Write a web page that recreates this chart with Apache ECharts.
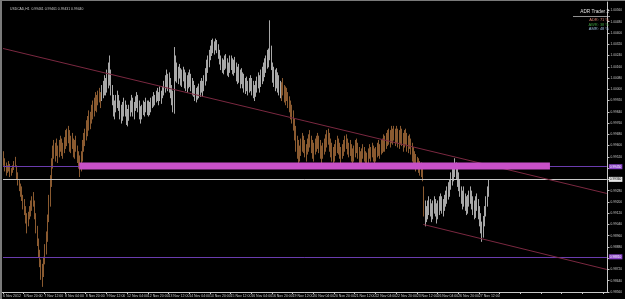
<!DOCTYPE html>
<html><head><meta charset="utf-8">
<script src="https://cdn.jsdelivr.net/npm/echarts/dist/echarts.min.js"></script>
<style>html,body{margin:0;padding:0;background:#000;overflow:hidden}#c{width:625px;height:299px}</style>
</head><body><div id="c"></div>
<script>
const symbolTitle = 'USDCAD,H1  0.99461 0.99461 0.99431 0.99440';
const xTickLabels = ['6 Nov 2012','6 Nov 20:00','7 Nov 12:00','8 Nov 04:00','8 Nov 20:00','9 Nov 12:00','12 Nov 04:00','12 Nov 20:00','13 Nov 12:00','14 Nov 04:00','14 Nov 20:00','15 Nov 12:00','16 Nov 04:00','16 Nov 20:00','19 Nov 12:00','20 Nov 04:00','20 Nov 20:00','21 Nov 12:00','22 Nov 04:00','22 Nov 20:00','23 Nov 12:00','26 Nov 04:00','26 Nov 20:00','27 Nov 12:00'];
const highs = [
0.9956,0.9951,0.9948,0.9946,0.9949,0.9947,0.9944,0.9946,0.9949,0.9952,0.9946,0.9941,0.9936,0.9933,0.9931,0.9925,
0.9922,0.9917,0.9912,0.9913,0.9917,0.9921,0.9924,0.9927,0.9921,0.9912,0.9903,0.9894,0.9886,0.9879,0.9876,0.9881,
0.9890,0.9899,0.9911,0.9925,0.9939,0.9951,0.9960,0.9964,0.9962,0.9965,0.9960,0.9964,0.9967,0.9965,0.9962,0.9966,
0.9971,0.9972,0.9974,0.9971,0.9967,0.9969,0.9965,0.9964,0.9967,0.9960,0.9956,0.9953,0.9956,0.9964,0.9969,0.9972,
0.9978,0.9981,0.9985,0.9984,0.9989,0.9992,0.9994,0.9998,0.9996,0.9999,1.0001,0.9998,1.0003,1.0006,1.0010,1.0008,
1.0014,1.0019,1.0024,1.0014,1.0003,0.9996,0.9992,0.9996,0.9999,0.9996,0.9992,0.9989,0.9991,0.9994,0.9992,0.9989,
0.9986,0.9989,0.9992,0.9996,0.9994,0.9991,0.9995,0.9998,0.9996,0.9992,0.9988,0.9989,0.9992,0.9991,0.9994,0.9992,
0.9992,0.9991,0.9994,0.9995,0.9998,0.9996,0.9999,1.0001,0.9998,1.0002,0.9999,1.0002,1.0006,1.0010,1.0014,1.0011,
1.0012,1.0008,1.0003,0.9999,1.0030,1.0024,1.0019,1.0016,1.0018,1.0015,1.0014,1.0016,1.0014,1.0012,1.0010,1.0012,
1.0014,1.0011,1.0008,1.0006,1.0003,1.0001,1.0002,1.0004,1.0006,1.0008,1.0006,1.0010,1.0015,1.0021,1.0024,1.0028,
1.0031,1.0035,1.0036,1.0034,1.0036,1.0035,1.0032,1.0028,1.0024,1.0022,1.0021,1.0024,1.0025,1.0022,1.0019,1.0024,
1.0024,1.0022,1.0021,1.0023,1.0019,1.0016,1.0018,1.0014,1.0015,1.0012,1.0011,1.0008,1.0009,1.0006,1.0008,1.0010,
1.0008,1.0006,1.0003,1.0006,1.0009,1.0012,1.0010,1.0014,1.0016,1.0019,1.0022,1.0024,1.0028,1.0029,1.0049,1.0031,
1.0019,1.0016,1.0014,1.0015,1.0012,1.0010,1.0006,1.0005,1.0008,1.0003,1.0002,1.0001,0.9998,0.9995,0.9992,0.9989,
0.9985,0.9979,0.9974,0.9967,0.9964,0.9960,0.9965,0.9969,0.9967,0.9964,0.9961,0.9965,0.9968,0.9971,0.9967,0.9964,
0.9962,0.9965,0.9967,0.9969,0.9967,0.9964,0.9960,0.9962,0.9965,0.9968,0.9971,0.9972,0.9969,0.9965,0.9962,0.9959,
0.9961,0.9964,0.9967,0.9965,0.9962,0.9959,0.9961,0.9964,0.9967,0.9968,0.9965,0.9962,0.9964,0.9961,0.9958,0.9960,
0.9964,0.9965,0.9962,0.9959,0.9956,0.9958,0.9961,0.9959,0.9956,0.9955,0.9958,0.9961,0.9959,0.9962,0.9960,0.9958,
0.9959,0.9962,0.9964,0.9961,0.9964,0.9965,0.9968,0.9967,0.9969,0.9971,0.9972,0.9971,0.9974,0.9972,0.9974,0.9972,
0.9974,0.9972,0.9971,0.9974,0.9972,0.9969,0.9971,0.9972,0.9969,0.9967,0.9968,0.9965,0.9962,0.9959,0.9956,0.9954,
0.9952,0.9951,0.9949,0.9948,0.9946,0.9931,0.9921,0.9917,0.9921,0.9924,0.9922,0.9919,0.9921,0.9924,0.9922,0.9919,
0.9921,0.9924,0.9926,0.9924,0.9922,0.9925,0.9928,0.9931,0.9934,0.9936,0.9941,0.9944,0.9946,0.9951,0.9948,0.9945,
0.9941,0.9936,0.9931,0.9928,0.9931,0.9926,0.9924,0.9925,0.9928,0.9931,0.9928,0.9924,0.9921,0.9924,0.9926,0.9922,
0.9917,0.9912,0.9906,0.9910,0.9917,0.9924,0.9931,0.9936];
const lows = [
0.9946,0.9942,0.9939,0.9941,0.9942,0.9938,0.9939,0.9941,0.9943,0.9945,0.9936,0.9932,0.9928,0.9924,0.9921,0.9915,
0.9911,0.9905,0.9898,0.9903,0.9908,0.9910,0.9914,0.9917,0.9908,0.9898,0.9889,0.9881,0.9874,0.9865,0.9860,0.9867,
0.9876,0.9883,0.9892,0.9906,0.9917,0.9931,0.9944,0.9951,0.9949,0.9953,0.9948,0.9952,0.9956,0.9953,0.9951,0.9955,
0.9958,0.9960,0.9962,0.9956,0.9955,0.9958,0.9952,0.9951,0.9956,0.9948,0.9944,0.9938,0.9942,0.9949,0.9956,0.9960,
0.9964,0.9967,0.9971,0.9972,0.9976,0.9979,0.9981,0.9985,0.9984,0.9989,0.9991,0.9987,0.9992,0.9994,0.9996,0.9996,
0.9998,1.0001,1.0003,0.9996,0.9989,0.9981,0.9979,0.9984,0.9987,0.9985,0.9979,0.9976,0.9978,0.9981,0.9981,0.9975,
0.9974,0.9978,0.9981,0.9984,0.9981,0.9979,0.9985,0.9987,0.9984,0.9979,0.9976,0.9979,0.9982,0.9981,0.9984,0.9982,
0.9981,0.9982,0.9984,0.9987,0.9988,0.9989,0.9991,0.9992,0.9989,0.9992,0.9990,0.9994,0.9996,0.9998,1.0001,0.9999,
0.9998,0.9994,0.9989,0.9984,0.9983,1.0006,1.0005,1.0004,1.0008,1.0003,1.0002,1.0006,1.0001,0.9999,0.9998,1.0001,
1.0002,0.9999,0.9996,0.9995,0.9992,0.9991,0.9993,0.9994,0.9995,0.9998,0.9995,0.9999,1.0003,1.0006,1.0012,1.0016,
1.0021,1.0024,1.0026,1.0025,1.0028,1.0026,1.0022,1.0018,1.0014,1.0012,1.0011,1.0014,1.0015,1.0010,1.0009,1.0012,
1.0014,1.0011,1.0010,1.0012,1.0006,1.0004,1.0005,1.0001,1.0004,1.0001,0.9998,0.9997,0.9999,0.9996,0.9998,0.9999,
0.9996,0.9994,0.9992,0.9995,0.9998,1.0001,0.9998,1.0002,1.0004,1.0006,1.0009,1.0012,1.0015,1.0016,1.0021,1.0014,
1.0005,1.0002,0.9999,1.0001,0.9998,0.9996,0.9994,0.9992,0.9996,0.9991,0.9989,0.9992,0.9987,0.9984,0.9979,0.9976,
0.9971,0.9964,0.9956,0.9951,0.9948,0.9949,0.9953,0.9956,0.9955,0.9952,0.9949,0.9954,0.9956,0.9959,0.9955,0.9951,
0.9949,0.9954,0.9956,0.9958,0.9955,0.9951,0.9948,0.9951,0.9954,0.9956,0.9959,0.9961,0.9956,0.9952,0.9949,0.9948,
0.9949,0.9953,0.9955,0.9954,0.9951,0.9948,0.9951,0.9953,0.9956,0.9958,0.9954,0.9952,0.9953,0.9949,0.9947,0.9949,
0.9952,0.9955,0.9951,0.9948,0.9946,0.9948,0.9951,0.9949,0.9946,0.9945,0.9948,0.9951,0.9949,0.9952,0.9949,0.9947,
0.9949,0.9952,0.9953,0.9951,0.9954,0.9955,0.9956,0.9956,0.9958,0.9960,0.9961,0.9959,0.9962,0.9961,0.9964,0.9960,
0.9962,0.9959,0.9958,0.9961,0.9960,0.9956,0.9959,0.9961,0.9956,0.9955,0.9958,0.9954,0.9949,0.9948,0.9945,0.9942,
0.9944,0.9941,0.9939,0.9938,0.9935,0.9910,0.9903,0.9906,0.9908,0.9911,0.9910,0.9906,0.9908,0.9912,0.9910,0.9905,
0.9908,0.9911,0.9914,0.9912,0.9910,0.9914,0.9917,0.9919,0.9922,0.9924,0.9929,0.9932,0.9935,0.9938,0.9936,0.9931,
0.9928,0.9924,0.9919,0.9915,0.9917,0.9914,0.9911,0.9912,0.9917,0.9919,0.9915,0.9911,0.9908,0.9909,0.9914,0.9908,
0.9903,0.9898,0.9892,0.9895,0.9903,0.9910,0.9917,0.9924];
const grayRanges = [[76, 214], [326, 375]];
const slotCount = 468;
const levelPrices = [0.9945, 0.9936, 0.9881];
const levelLabels = ['0.99450', '0.99360', '0.98810'];
const trendLines = [[0, 1.0029, 467, 0.9926], [325, 0.9904, 467, 0.9872]];
const zoneBand = [59, 0.9948, 423, 0.9943];
const adrLines = ['ADR: 71 %', 'AWR: 38 %', 'AMR: 48 %'];

const FONT = 'Liberation Sans';
const slots = Array.from({length: slotCount}, (_, i) => String(i));
const isGray = i => grayRanges.some(r => i >= r[0] && i <= r[1]);
const barData = highs.map((h, i) => [i, lows[i], h, isGray(i) ? 1 : 0]);
const BROWN = '#8a5a30', GRAY = '#a8a8a8';
const levelStyles = [
  {line: '#6a3cae', bg: '#8a44c8', fg: '#fff'},
  {line: '#c8c8c8', bg: '#e8e8e8', fg: '#000'},
  {line: '#6a3cae', bg: '#8a44c8', fg: '#fff'}
];
const adrColors = ['#d88070', '#3c9a3c', '#98b8d8'];
const lastSlot = slotCount - 1;

const chart = echarts.init(document.getElementById('c'), null, {renderer: 'canvas'});
chart.setOption({
  animation: false,
  backgroundColor: '#000',
  title: {text: symbolTitle, left: 5, top: 3, textStyle: {color: '#c8c8c8', fontSize: 3.4, fontWeight: 'normal', fontFamily: FONT}},
  grid: {left: 2, right: 14, top: 2, bottom: 7},
  xAxis: {
    type: 'category', data: slots, boundaryGap: true,
    axisLine: {lineStyle: {color: '#c8c8c8', width: 1}},
    axisTick: {show: true, interval: i => i % 16 === 0, length: 2, alignWithLabel: true, lineStyle: {color: '#c8c8c8'}},
    axisLabel: {interval: i => i % 16 === 0 && i / 16 < xTickLabels.length, formatter: (v, i) => xTickLabels[i / 16] || '',
      color: '#c8c8c8', fontSize: 3.5, align: 'left', margin: 2, fontFamily: FONT},
    splitLine: {show: false}
  },
  yAxis: {
    type: 'value', position: 'right', min: 0.9856, max: 1.0062, interval: 0.0008,
    axisLine: {show: true, lineStyle: {color: '#c8c8c8', width: 1}},
    axisTick: {show: true, length: 2, lineStyle: {color: '#c8c8c8'}},
    axisLabel: {color: '#c8c8c8', fontSize: 3.2, margin: 3, showMaxLabel: false, formatter: v => v.toFixed(5), fontFamily: FONT},
    splitLine: {show: false}
  },
  series: [
    {
      type: 'custom', name: 'bars', data: barData, encode: {x: 0, y: [1, 2]}, z: 3,
      renderItem: (params, api) => {
        const x = api.value(0);
        const top = api.coord([x, api.value(2)]);
        const bot = api.coord([x, api.value(1)]);
        const cx = Math.round(top[0]) + 0.5;
        return {type: 'line', shape: {x1: cx, y1: top[1], x2: cx, y2: bot[1] + 0.5},
          style: {stroke: api.value(3) ? GRAY : BROWN, lineWidth: 1}};
      }
    },
    {
      type: 'line', name: 'levels', data: [], z: 4, silent: true,
      markLine: {
        silent: true, symbol: ['none', 'none'], animation: false,
        data: [
          ...levelPrices.map((p, k) => [
            {coord: [0, p], lineStyle: {color: levelStyles[k].line, width: 1, type: 'solid'},
              label: {show: true, position: 'end', formatter: levelLabels[k], color: levelStyles[k].fg,
                backgroundColor: levelStyles[k].bg, fontSize: 3.2, padding: [1, 1], distance: 2, fontFamily: FONT}},
            {coord: [lastSlot, p]}
          ]),
          ...trendLines.map(t => [
            {coord: [t[0], t[1]], lineStyle: {color: '#7a2840', width: 1, type: 'solid'}, label: {show: false}},
            {coord: [t[2], t[3]]}
          ])
        ]
      }
    },
    {
      type: 'line', name: 'zone', data: [], z: 6, silent: true,
      markArea: {silent: true, z: 6, itemStyle: {color: '#c850c8', opacity: 1},
        data: [[{coord: [zoneBand[0], zoneBand[1]]}, {coord: [zoneBand[2], zoneBand[3]]}]]}
    }
  ],
  graphic: [
    {type: 'rect', shape: {x: 0, y: 0, width: 2, height: 299}, style: {fill: '#7a7a7a'}},
    {type: 'rect', shape: {x: 0, y: 0, width: 625, height: 1}, style: {fill: '#7a7a7a'}},
    {type: 'text', x: 609, y: 12, z: 10, style: {text: 'ADR Trader 2', fill: '#e0e0e0', font: '4.7px "' + FONT + '"', textAlign: 'right', textVerticalAlign: 'middle'}},
    {type: 'line', shape: {x1: 573, y1: 16.5, x2: 610, y2: 16.5}, style: {stroke: '#909090', lineWidth: 1}},
    ...adrLines.map((t, k) => ({type: 'text', x: 609, y: 20 + k * 4.6, z: 10,
      style: {text: t, fill: adrColors[k], font: '4px "' + FONT + '"', textAlign: 'right', textVerticalAlign: 'middle'}}))
  ]
});
</script></body></html>
